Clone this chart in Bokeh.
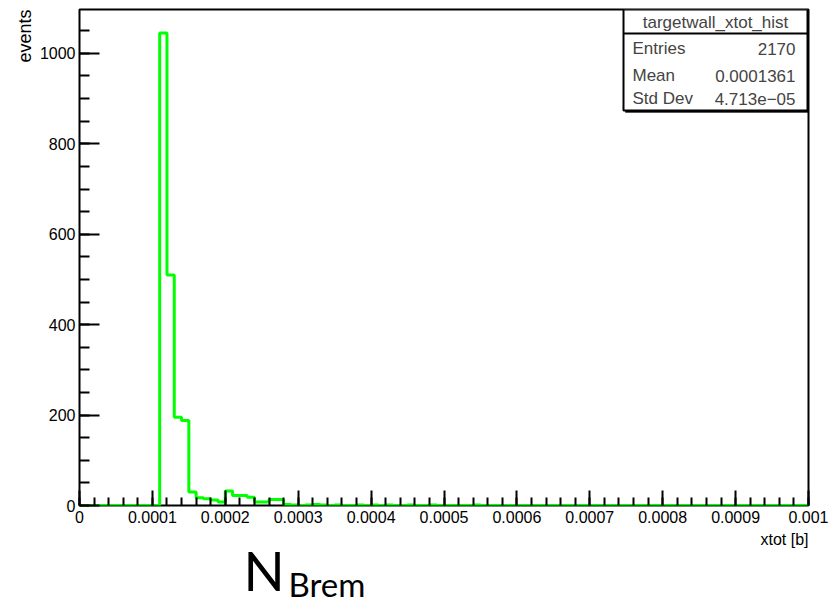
import numpy as np
from bokeh.plotting import figure
from bokeh.models import FixedTicker, Range1d, Label, BoxAnnotation, Title
from bokeh.core.properties import value
from bokeh.layouts import column
from bokeh.embed import file_html
from bokeh.resources import INLINE

# ---- data ----
x_min = 0.0
x_max = 0.001
n_bins = 100
counts = [0, 0, 0, 0, 0, 0, 0, 0, 0, 0,
          0, 1045, 510, 195, 188, 30, 17, 15, 12, 8,
          32, 22, 22, 18, 8, 8, 13, 13, 2, 1,
          0, 1, 2, 1, 0, 1, 0, 0, 1, 0,
          1, 0, 1, 0, 0, 1, 0, 0, 1, 0,
          0, 0, 0, 0, 1, 0, 0, 0, 0, 0,
          0, 0, 0, 0, 0, 0, 0, 0, 0, 0,
          0, 0, 0, 0, 0, 0, 0, 0, 0, 0,
          0, 0, 0, 0, 0, 0, 0, 0, 0, 0,
          0, 0, 0, 0, 0, 0, 0, 0, 0, 0]
y_max = 1097

x_ticks = [0, 0.0001, 0.0002, 0.0003, 0.0004, 0.0005, 0.0006, 0.0007, 0.0008, 0.0009, 0.001]
x_tick_labels = ["0", "0.0001", "0.0002", "0.0003", "0.0004", "0.0005",
                 "0.0006", "0.0007", "0.0008", "0.0009", "0.001"]
y_ticks = [0, 200, 400, 600, 800, 1000]
y_tick_labels = ["0", "200", "400", "600", "800", "1000"]

stats_title = "targetwall_xtot_hist"
stats_names = ["Entries", "Mean", "Std Dev"]
stats_values = ["2170", "0.0001361", "4.713e\u221205"]

x_label = "xtot [b]"
y_label = "events"
big_main = "N"
big_sub = "Brem"

# ---- layout (canvas pixels) ----
W = 836
H1 = 529          # main figure height
H2 = 604 - H1     # caption strip height
FL, FR, FT, FB = 79, 808, 9, 505
FONT = "Liberation Sans"


def sx(cx):
    return cx - FL


def sy(cy):
    return FB - cy


p = figure(width=W, height=H1, output_backend="svg", toolbar_location=None,
           x_range=Range1d(x_min, x_max), y_range=Range1d(0, y_max),
           min_border_left=FL, min_border_right=W - FR, min_border_top=FT,
           min_border_bottom=H1 - FB)
p.grid.visible = False
p.background_fill_color = "white"
p.border_fill_color = "white"
p.outline_line_color = "black"
p.outline_line_width = 2

edges = np.linspace(x_min, x_max, n_bins + 1)
p.step(x=list(edges), y=counts + [counts[-1]], mode="after",
       line_color="#00ff00", line_width=3)

xminor = list(np.linspace(x_min, x_max, 51))
yminor = list(np.arange(0, 1100, 50))
p.xaxis.ticker = FixedTicker(ticks=x_ticks, minor_ticks=xminor)
p.yaxis.ticker = FixedTicker(ticks=y_ticks, minor_ticks=yminor)
p.xaxis.major_label_overrides = {t: l for t, l in zip(x_ticks, x_tick_labels)}
p.yaxis.major_label_overrides = {t: l for t, l in zip(y_ticks, y_tick_labels)}

for ax in (p.xaxis, p.yaxis):
    ax.axis_line_color = None
    ax.major_tick_line_width = 2
    ax.minor_tick_line_width = 2
    ax.major_tick_line_color = "black"
    ax.minor_tick_line_color = "black"
    ax.major_tick_out = 0
    ax.minor_tick_out = 0
    ax.major_label_text_font = FONT
    ax.major_label_text_font_size = "16px"
    ax.major_label_text_color = "black"
p.xaxis.major_tick_in = 15
p.xaxis.minor_tick_in = 8
p.yaxis.major_tick_in = 20
p.yaxis.minor_tick_in = 10
p.xaxis.major_label_standoff = 5
p.yaxis.major_label_standoff = 4

# y axis title "events", at the top end, left of the tick labels
p.add_layout(Title(text=y_label, align="right", text_font=FONT, text_font_size="18px",
                   text_font_style="normal", text_color="black", standoff=4), "left")

# stats box (canvas pixels)
bl, br, bt, bb, bdiv = 623, 807, 9, 110, 33
p.add_layout(BoxAnnotation(left=sx(bl + 2), right=sx(br + 2), top=sy(bt + 2), bottom=sy(bb + 2),
                           left_units="screen", right_units="screen",
                           top_units="screen", bottom_units="screen",
                           fill_color="black", fill_alpha=1, line_color="black"))
p.add_layout(BoxAnnotation(left=sx(bl), right=sx(br), top=sy(bt), bottom=sy(bb),
                           left_units="screen", right_units="screen",
                           top_units="screen", bottom_units="screen",
                           fill_color="white", fill_alpha=1, line_color="black",
                           line_width=2, line_alpha=1))
p.add_layout(BoxAnnotation(left=sx(bl), right=sx(br), top=sy(bdiv), bottom=sy(bdiv),
                           left_units="screen", right_units="screen",
                           top_units="screen", bottom_units="screen",
                           fill_alpha=0, line_color="black", line_width=2, line_alpha=1))
p.add_layout(Label(x=sx((bl + br) / 2), y=sy(22), x_units="screen", y_units="screen",
                   text=stats_title, text_font=FONT,
                   text_font_size="17px", text_align="center", text_baseline="middle"))
row_y = [48, 75, 98]
for ry, nm, vl in zip(row_y, stats_names, stats_values):
    p.add_layout(Label(x=sx(bl + 9), y=sy(ry), x_units="screen", y_units="screen", text=nm,
                       text_font=FONT, text_font_size="17px",
                       text_align="left", text_baseline="middle"))
    p.add_layout(Label(x=sx(br - 12), y=sy(ry), x_units="screen", y_units="screen", text=vl,
                       text_font=FONT, text_font_size="17px",
                       text_align="right", text_baseline="middle"))

# ---- caption strip below: x-axis title and big N_Brem ----
# its frame is given the same horizontal extent as the main frame
p2 = figure(width=W, height=H2, output_backend="svg", toolbar_location=None,
            x_range=Range1d(FL, FR), y_range=Range1d(604, H1),
            x_axis_type=None, y_axis_type=None,
            min_border_left=FL, min_border_right=W - FR,
            min_border_top=0, min_border_bottom=0)
p2.grid.visible = False
p2.outline_line_color = None
p2.background_fill_color = "white"
p2.border_fill_color = "white"
p2.text(x=[808], y=[539], text=[x_label], text_font=value(FONT), text_font_size="16px",
        text_align="right", text_baseline="middle", text_color="black")
p2.text(x=[243], y=[570], text=[big_main], text_font=value("Lato"), text_font_size="54px",
        text_align="left", text_baseline="middle", text_color="black")
p2.text(x=[288], y=[583], text=[big_sub], text_font=value("Lato"), text_font_size="33px",
        text_align="left", text_baseline="middle", text_color="black")

layout = column(p, p2, spacing=0)
open("out.html", "w").write(file_html(layout, INLINE))
